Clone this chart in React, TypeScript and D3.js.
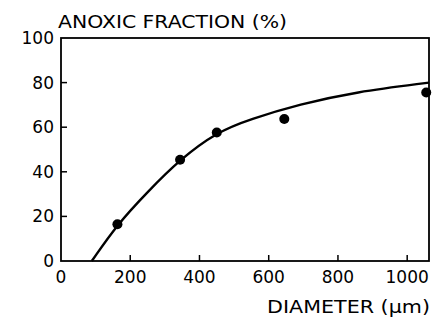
import { useEffect, useRef } from "react";
import * as d3 from "d3";

// measured points
const pointDiameter = [163, 344, 450, 645, 1055];
const pointAnoxic = [16.5, 45.4, 57.6, 63.7, 75.6];

// fitted curve
const curveDiameter = [89, 163, 250, 344, 450, 546, 690, 850, 1063];
const curveAnoxic = [0, 16.5, 31, 45.6, 57.8, 63.6, 70.3, 75.8, 80];

const xTicks = [0, 200, 400, 600, 800, 1000];
const yTicks = [0, 20, 40, 60, 80, 100];

const W = 434;
const H = 321;
const FONT = "'DejaVu Sans', sans-serif";

export default function App ()
{
    const svgRef = useRef<SVGSVGElement>( null );

    useEffect( () =>
    {
        if ( !svgRef.current ) return;
        const svg = d3.select( svgRef.current );
        svg.selectAll( "*" ).remove();

        const x = d3.scaleLinear().domain( [ 0, 1063 ] ).range( [ 61, 429 ] );
        const y = d3.scaleLinear().domain( [ 0, 100 ] ).range( [ 261, 38 ] );

        // frame
        svg.append( "rect" )
            .attr( "x", x( 0 ) ).attr( "y", y( 100 ) )
            .attr( "width", x( 1063 ) - x( 0 ) ).attr( "height", y( 0 ) - y( 100 ) )
            .attr( "fill", "none" ).attr( "stroke", "#000" ).attr( "stroke-width", 1.8 );

        // y ticks (inside)
        svg.append( "g" ).selectAll( "line" ).data( yTicks.slice( 1, -1 ) ).join( "line" )
            .attr( "x1", x( 0 ) ).attr( "x2", x( 0 ) + 6 )
            .attr( "y1", ( d ) => y( d ) ).attr( "y2", ( d ) => y( d ) )
            .attr( "stroke", "#000" ).attr( "stroke-width", 1.5 );

        svg.append( "g" ).selectAll( "text" ).data( yTicks ).join( "text" )
            .attr( "x", x( 0 ) - 7 ).attr( "y", ( d ) => y( d ) + 6 )
            .attr( "text-anchor", "end" )
            .style( "font-family", FONT ).style( "font-size", "17px" )
            .text( ( d ) => d );

        // x ticks (inside)
        svg.append( "g" ).selectAll( "line" ).data( xTicks.slice( 1 ) ).join( "line" )
            .attr( "x1", ( d ) => x( d ) ).attr( "x2", ( d ) => x( d ) )
            .attr( "y1", y( 0 ) ).attr( "y2", y( 0 ) - 6 )
            .attr( "stroke", "#000" ).attr( "stroke-width", 1.5 );

        svg.append( "g" ).selectAll( "text" ).data( xTicks ).join( "text" )
            .attr( "x", ( d ) => x( d ) ).attr( "y", 283 )
            .attr( "text-anchor", "middle" )
            .style( "font-family", FONT ).style( "font-size", "17px" )
            .text( ( d ) => d );

        // axis titles
        svg.append( "text" ).attr( "x", 58 ).attr( "y", 28 )
            .attr( "textLength", 229 ).attr( "lengthAdjust", "spacingAndGlyphs" )
            .style( "font-family", FONT ).style( "font-size", "17px" )
            .text( "ANOXIC FRACTION (%)" );

        svg.append( "text" ).attr( "x", 267 ).attr( "y", 313 )
            .attr( "textLength", 163 ).attr( "lengthAdjust", "spacingAndGlyphs" )
            .style( "font-family", FONT ).style( "font-size", "17px" )
            .text( "DIAMETER (µm)" );

        // curve
        const curve = curveDiameter.map( ( d, i ) => [ d, curveAnoxic[ i ] ] as [ number, number ] );
        const line = d3.line<[ number, number ]>()
            .x( ( d ) => x( d[ 0 ] ) ).y( ( d ) => y( d[ 1 ] ) )
            .curve( d3.curveBasis );
        svg.append( "path" ).datum( curve ).attr( "d", line )
            .attr( "fill", "none" ).attr( "stroke", "#000" ).attr( "stroke-width", 2.4 );

        // points
        svg.append( "g" ).selectAll( "circle" ).data( pointDiameter ).join( "circle" )
            .attr( "cx", ( d ) => x( d ) ).attr( "cy", ( d, i ) => y( pointAnoxic[ i ] ) )
            .attr( "r", 5 ).attr( "fill", "#000" );
    }, [] );

    return (
        <svg ref={ svgRef } width={ W } height={ H }
            style={ { position: "absolute", left: 0, top: 0, background: "#fff" } } />
    );
}
